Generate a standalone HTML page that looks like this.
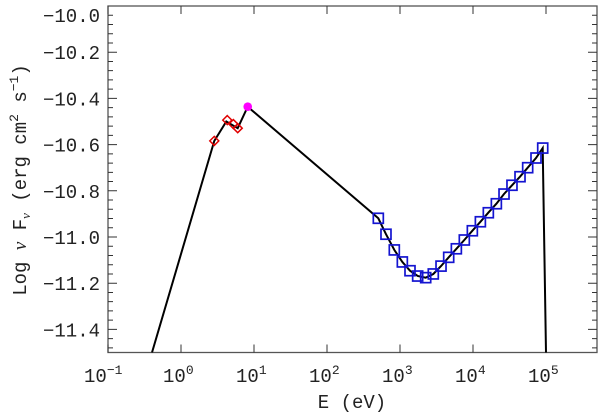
<!DOCTYPE html>
<html><head><meta charset="utf-8"><style>
html,body{margin:0;padding:0;background:#fff;}
svg{display:block;font-family:"Liberation Mono",monospace;}
</style></head><body>
<svg id="chart" width="600" height="414" viewBox="0 0 600 414">
<g id="axes"></g><g id="marks"></g>
</svg>
<script>
// data (x = log10 E[eV], y = log nuFnu)
const lineX = [-0.397, 0.456, 0.62, 0.777, 0.914, 2.703, 2.808, 2.922, 3.032, 3.137, 3.242, 3.352, 3.456, 3.562, 3.667, 3.772, 3.881, 3.991, 4.101, 4.210, 4.320, 4.425, 4.534, 4.644, 4.749, 4.863, 4.955, 5.0];
const lineY = [-11.5, -10.584, -10.50, -10.529, -10.436, -10.919, -10.988, -11.056, -11.108, -11.146, -11.169, -11.176, -11.160, -11.126, -11.088, -11.051, -11.013, -10.973, -10.934, -10.895, -10.856, -10.814, -10.776, -10.739, -10.700, -10.658, -10.615, -11.5];
const diamondX = [0.456, 0.634, 0.717, 0.777];
const diamondY = [-10.584, -10.494, -10.511, -10.529];
const circleX = [0.914];
const circleY = [-10.436];
const squareX = [2.703, 2.808, 2.922, 3.032, 3.137, 3.242, 3.352, 3.456, 3.562, 3.667, 3.772, 3.881, 3.991, 4.101, 4.210, 4.320, 4.425, 4.534, 4.644, 4.749, 4.863, 4.955];
const squareY = [-10.919, -10.988, -11.056, -11.108, -11.146, -11.169, -11.176, -11.160, -11.126, -11.088, -11.051, -11.013, -10.973, -10.934, -10.895, -10.856, -10.814, -10.776, -10.739, -10.700, -10.658, -10.615];
const xTickExps = [-1, 0, 1, 2, 3, 4, 5];
const yTickVals = [-10.0, -10.2, -10.4, -10.6, -10.8, -11.0, -11.2, -11.4];
const yTickLabels = ["\u221210.0", "\u221210.2", "\u221210.4", "\u221210.6", "\u221210.8", "\u221211.0", "\u221211.2", "\u221211.4"];

const L=108, R=597, T=6, B=352.5;
const X0=-1, X1=-1+(R-L)/73;
const Y0=-11.5, Y1=-10.0;
const sx = v => L + (v - X0) / (X1 - X0) * (R - L);
const sy = v => B - (v - Y0) / (Y1 - Y0) * (B - T);
const NS="http://www.w3.org/2000/svg";
const axes=document.getElementById('axes'), marks=document.getElementById('marks');
function mk(tag, attrs, parent){const e=document.createElementNS(NS,tag);for(const k in attrs)e.setAttribute(k,attrs[k]);parent.appendChild(e);return e;}

const frame=mk('rect',{x:L,y:T,width:R-L,height:B-T,fill:'none',stroke:'#555','stroke-width':1.3},axes);



xTickExps.forEach(e=>{
  const x=sx(e);
  const t=mk('path',{d:`M${x},${B}V${B-8}M${x},${T}V${T+8}`,stroke:'#333','stroke-width':1},axes);
  
  
  const lab=mk('text',{x:x-(e<0?24:18),y:382,'font-size':19,fill:'#222'},axes);
  
  
  lab.textContent='10';
  const sup=mk('tspan',{dy:-8,'font-size':13},lab);
  sup.textContent=e<0?'\u2212'+Math.abs(e):String(e);
});
for(let v=-11.48; v<=-10.0001; v+=0.04){
  const y=sy(v);
  const major=Math.abs(Math.round(v*5)-v*5)<1e-6;
  const len=major?9:5;
  const t=mk('path',{d:`M${L},${y}H${L+len}M${R},${y}H${R-len}`,stroke:'#333','stroke-width':1},axes);
  
  
}
yTickVals.forEach((v,i)=>{
  let y=sy(v)+7;
  if(i===0) y=sy(v)+16;
  const lab=mk('text',{x:100,y:y,'font-size':19,'text-anchor':'end',fill:'#222'},axes);
  
  
  lab.textContent=yTickLabels[i];
});
const xt=mk('text',{x:352,y:408,'font-size':19,'text-anchor':'middle',fill:'#222'},axes);


xt.textContent='E (eV)';
const yt=mk('text',{x:0,y:0,'font-size':19,'text-anchor':'middle',fill:'#222',transform:'translate(26,180) rotate(-90)'},axes);


yt.innerHTML='Log <tspan font-family="Liberation Serif" font-style="italic">\u03bd</tspan> F<tspan font-size="13" dy="4" font-family="Liberation Serif" font-style="italic">\u03bd</tspan><tspan dy="-4"> (erg cm</tspan><tspan font-size="13" dy="-8">2</tspan><tspan dy="8"> s</tspan><tspan font-size="13" dy="-8">\u22121</tspan><tspan dy="8">)</tspan>';

const clip=mk('clipPath',{id:'pc'},marks);
mk('rect',{x:L,y:T,width:R-L,height:B-T},clip);
const d=lineX.map((x,i)=>(i?'L':'M')+sx(x).toFixed(1)+','+sy(lineY[i]).toFixed(1)).join('');
const line=mk('path',{d:d,fill:'none',stroke:'#000','stroke-width':2,'clip-path':'url(#pc)'},marks);



squareX.forEach((x,i)=>{
  const cx=sx(x), cy=sy(squareY[i]);
  const s=mk('rect',{x:cx-5,y:cy-5,width:10,height:10,fill:'none',stroke:'#1414d0','stroke-width':1.7},marks);
  
  
});
diamondX.forEach((x,i)=>{
  const cx=sx(x), cy=sy(diamondY[i]);
  const p=mk('path',{d:`M${cx},${cy-4.5}L${cx+4.5},${cy}L${cx},${cy+4.5}L${cx-4.5},${cy}Z`,fill:'none',stroke:'#e00000','stroke-width':1.5},marks);
  
  
});
circleX.forEach((x,i)=>{
  const c=mk('circle',{cx:sx(x),cy:sy(circleY[i]),r:4.3,fill:'#ff00ff'},marks);
  
  
});
</script>
</body></html>
